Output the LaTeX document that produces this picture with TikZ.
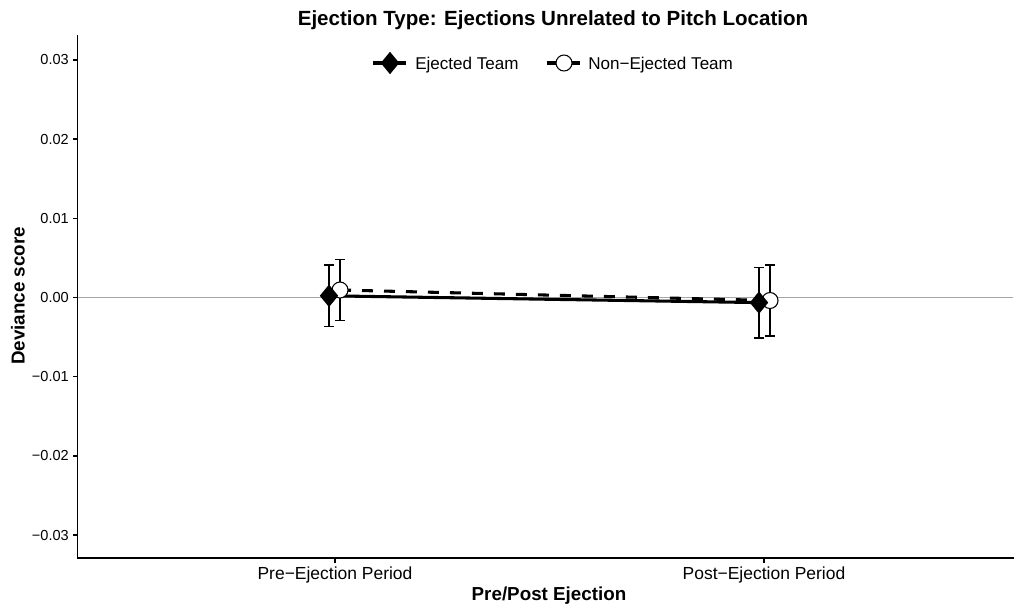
\documentclass[tikz,border=0pt]{standalone}
\usepackage{fontspec}
\setmainfont{Liberation Sans}
\usetikzlibrary{calc, positioning, shapes.geometric}

\begin{document}
\begin{tikzpicture}[x=0.75pt, y=-0.75pt,
    ejected/.style={diamond, fill=black, inner sep=0pt, minimum width=14pt, minimum height=17pt},
    nonejected/.style={circle, draw=black, fill=white, line width=0.8pt, inner sep=0pt, minimum size=12pt},
    ejline/.style={line width=2.3pt},
    neline/.style={line width=2.3pt, dash pattern=on 8.25pt off 8.25pt},
    errbar/.style={line width=1pt},
    axisline/.style={line width=1pt, line cap=rect},
    ticklab/.style={inner sep=0pt, font=\fontsize{10.9}{12}\selectfont},
    xlab/.style={inner sep=0pt, font=\fontsize{13.1}{15}\selectfont},
    legtext/.style={inner sep=0pt, font=\fontsize{12.8}{15}\selectfont},
    axtitle/.style={inner sep=0pt, font=\bfseries\fontsize{14.1}{17}\selectfont}]
    \useasboundingbox (0,0) rectangle (1020,607);

    % zero reference line
    \draw[black!35, line width=1.1pt] (77.5,297.5) -- (1013,297.5);

    % axes and ticks
    \draw[axisline] (77.5,36) -- (77.5,558) -- (1013,558);
    \foreach \y/\lab in {59.9/0.03, 139.1/0.02, 218.3/0.01, 297.5/0.00,
                         376.7/−0.01, 455.9/−0.02, 535.1/−0.03} {
        \draw[line width=1pt] (73,\y) -- (77.5,\y);
        \node[ticklab, anchor=east] (ytick-\lab) at (69,\y) {\lab};
    }
    \draw[line width=1pt] (335,558) -- (335,562.5) (764,558) -- (764,562.5);
    \node[xlab, anchor=base] (pre) at (335,579.3) {Pre−Ejection Period};
    \node[xlab, anchor=base] (post) at (764,579.3) {Post−Ejection Period};

    % titles
    \node[axtitle, font=\bfseries\fontsize{15.4}{18}\selectfont] (title) at (553,20) {Ejection Type: Ejections Unrelated to Pitch Location};
    \node[axtitle, anchor=base] (xtitle) at (549,600) {Pre/Post Ejection};
    \node[axtitle, rotate=90] (ytitle) at (18,296) {Deviance score};

    % means
    \coordinate (ej-pre) at (329,295.8);
    \coordinate (ej-post) at (759,302.6);
    \coordinate (ne-pre) at (340,290);
    \coordinate (ne-post) at (770,300.5);

    \draw[neline] (ne-pre) -- (ne-post);
    \draw[ejline] (ej-pre) -- (ej-post);

    % error bars
    \foreach \x/\lo/\hi in {329/265/326.7, 340/259.3/320.7, 759/267.3/338, 770/265/336} {
        \draw[errbar] (\x,\lo) -- (\x,\hi)
            (\x-5,\lo) -- (\x+5,\lo)
            (\x-5,\hi) -- (\x+5,\hi);
    }

    \node[nonejected] (ne-pre-pt) at (ne-pre) {};
    \node[nonejected] (ne-post-pt) at (ne-post) {};
    \node[ejected] (ej-pre-pt) at (ej-pre) {};
    \node[ejected] (ej-post-pt) at (ej-post) {};

    % legend
    \coordinate (key-ej-a) at (373,63);
    \coordinate (key-ej-b) at (406,63);
    \coordinate (key-ne-a) at (547,63);
    \coordinate (key-ne-b) at (581,63);
    \draw[ejline] (key-ej-a) -- (key-ej-b);
    \draw[neline] (key-ne-a) -- (key-ne-b);
    \node[ejected] (key-ej) at (390,63) {};
    \node[nonejected] (key-ne) at (564,63) {};
    \node[legtext, anchor=base west] (lab-ej) at (415,69) {Ejected Team};
    \node[legtext, anchor=base west] (lab-ne) at (588,69) {Non−Ejected Team};
\end{tikzpicture}
\end{document}
